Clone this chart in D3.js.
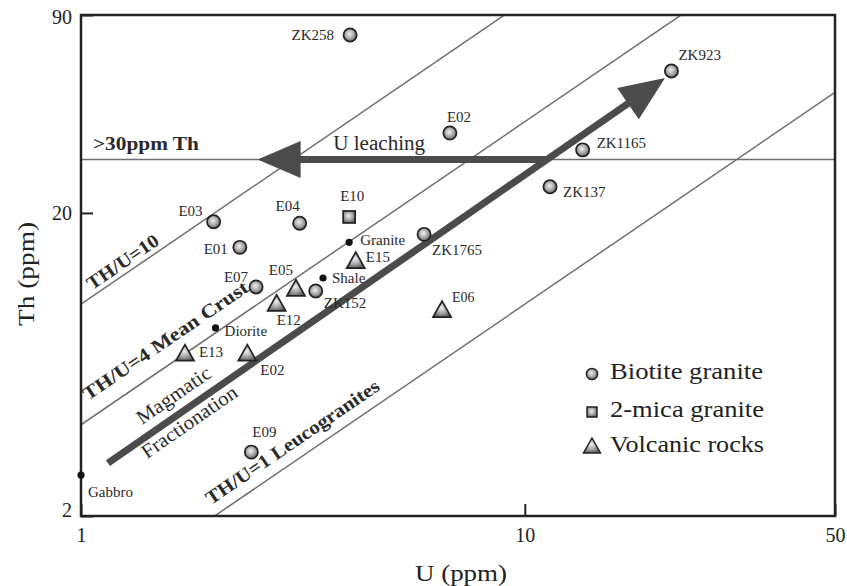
<!DOCTYPE html>
<html>
<head>
<meta charset="utf-8">
<script src="https://cdn.jsdelivr.net/npm/d3@7"></script>
<style>
  html, body { margin: 0; padding: 0; background: #fff; }
</style>
</head>
<body>
<svg id="chart" width="847" height="586"></svg>
<script>
// ---- Sample data: names, U (ppm), Th (ppm) ----
const biotiteNames = ["ZK258", "ZK923", "E02", "ZK1165", "ZK137", "ZK1765", "E03", "E04", "E01", "E07", "ZK152", "E09"];
const biotiteU     = [4.04, 21.4, 6.78, 13.5, 11.4, 5.93, 1.99, 3.11, 2.28, 2.48, 3.38, 2.42];
const biotiteTh    = [77.3, 58.8, 36.7, 32.3, 24.4, 17.0, 18.7, 18.5, 15.4, 11.4, 11.05, 3.25];

const micaNames = ["E10"];
const micaU     = [4.02];
const micaTh    = [19.4];

const volcanicNames = ["E15", "E05", "E12", "E13", "E02", "E06"];
const volcanicU     = [4.16, 3.05, 2.76, 1.715, 2.37, 6.51];
const volcanicTh    = [13.7, 11.1, 9.9, 6.78, 6.78, 9.44];

// Average crustal rock compositions
const rockNames = ["Granite", "Shale", "Diorite", "Gabbro"];
const rockU     = [4.02, 3.51, 2.01, 1.0];
const rockTh    = [16.0, 12.2, 8.35, 2.73];

// Reference Th/U ratio lines and the Th threshold
const ratioValues = [10, 4, 1];
const thThreshold = 30;

// Trend arrows (start, head) in U / Th
const fractionationU  = [1.15, 20.7];
const fractionationTh = [2.99, 55.8];
const leachingU  = [11.3, 2.5];
const leachingTh = [30, 30];

const xTickValues = [1, 10, 50];
const yTickValues = [2, 20, 90];

// ---- Layout ----
const FONT = "'Liberation Serif', 'Times New Roman', Times, serif";
const svg = d3.select("#chart").style("font-family", FONT);
const x = d3.scaleLog().domain([1, 50]).range([81, 835]);
const y = d3.scaleLog().domain([2, 90]).range([516, 15]);
const [x0, x1] = x.range();
const [y0, y1] = y.range();

const defs = svg.append("defs");
defs.append("clipPath").attr("id", "plot-clip")
  .append("rect").attr("x", x0).attr("y", y1).attr("width", x1 - x0).attr("height", y0 - y1);

function shadeGradient(id) {
  const g = defs.append("radialGradient").attr("id", id)
    .attr("cx", "45%").attr("cy", "42%").attr("r", "60%");
  g.append("stop").attr("offset", "0%").attr("stop-color", "#f0f0f0");
  g.append("stop").attr("offset", "55%").attr("stop-color", "#a8a8a8");
  g.append("stop").attr("offset", "100%").attr("stop-color", "#626262");
}
shadeGradient("ball");
shadeGradient("tri");

const lineColor = "#6f6f6f";
const arrowColor = "#4b4b4b";
const ink = "#222";

// ---- Reference lines ----
const refLines = svg.append("g").attr("clip-path", "url(#plot-clip)");
refLines.selectAll("line.ratio").data(ratioValues).join("line")
  .attr("class", "ratio")
  .attr("x1", x(1)).attr("y1", r => y(r * 1))
  .attr("x2", x(50)).attr("y2", r => y(r * 50))
  .attr("stroke", lineColor).attr("stroke-width", 1.5);
refLines.append("line")
  .attr("x1", x0).attr("x2", x1)
  .attr("y1", y(thThreshold)).attr("y2", y(thThreshold))
  .attr("stroke", lineColor).attr("stroke-width", 1.5);

// ---- Trend arrows ----
function arrow(g, ua, ta, ub, tb, width, headLen, headHalf) {
  const ax = x(ua), ay = y(ta), bx = x(ub), by = y(tb);
  const len = Math.hypot(bx - ax, by - ay);
  const ux = (bx - ax) / len, uy = (by - ay) / len;
  const px = -uy, py = ux;
  const cx = bx - ux * headLen, cy = by - uy * headLen;
  g.append("line")
    .attr("x1", ax).attr("y1", ay).attr("x2", cx + ux * 2).attr("y2", cy + uy * 2)
    .attr("stroke", arrowColor).attr("stroke-width", width);
  g.append("path")
    .attr("d", `M${bx},${by}L${cx + px * headHalf},${cy + py * headHalf}L${cx - px * headHalf},${cy - py * headHalf}Z`)
    .attr("fill", arrowColor);
}
const arrows = svg.append("g");
arrow(arrows, leachingU[0], leachingTh[0], leachingU[1], leachingTh[1], 7, 43, 18.5);
arrow(arrows, fractionationU[0], fractionationTh[0], fractionationU[1], fractionationTh[1], 7, 45, 19);

// ---- Frame and axes ----
svg.append("rect")
  .attr("x", x0).attr("y", y1).attr("width", x1 - x0).attr("height", y0 - y1)
  .attr("fill", "none").attr("stroke", ink).attr("stroke-width", 2.5);

const xAxis = svg.append("g").attr("transform", `translate(0,${y0})`)
  .call(d3.axisBottom(x).tickValues(xTickValues).tickFormat(d3.format("d"))
    .tickSizeInner(-12).tickSizeOuter(0).tickPadding(12));
const yAxis = svg.append("g").attr("transform", `translate(${x0},0)`)
  .call(d3.axisLeft(y).tickValues(yTickValues).tickFormat(d3.format("d"))
    .tickSizeInner(-12).tickSizeOuter(0).tickPadding(9));
[xAxis, yAxis].forEach(a => {
  a.attr("font-family", FONT);
  a.select(".domain").remove();
  a.selectAll(".tick line").attr("stroke", ink).attr("stroke-width", 2);
  a.selectAll(".tick text").attr("fill", ink)
    .style("font-family", FONT).style("font-size", "20px");
});
yAxis.selectAll(".tick text").filter(d => d === 2).attr("dy", "0.02em");
yAxis.selectAll(".tick text").filter(d => d === 90).attr("dy", "0.4em");

svg.append("text")
  .attr("x", (x0 + x1) / 2 + 3).attr("y", 581)
  .attr("text-anchor", "middle").attr("fill", ink)
  .style("font-size", "23px").attr("textLength", 92).attr("lengthAdjust", "spacingAndGlyphs")
  .text("U (ppm)");
svg.append("text")
  .attr("transform", "translate(34,274) rotate(-90)")
  .attr("text-anchor", "middle").attr("fill", ink)
  .style("font-size", "23px").attr("textLength", 104).attr("lengthAdjust", "spacingAndGlyphs")
  .text("Th (ppm)");

// ---- Annotation text ----
const ratioAngle = Math.atan2(y(500) - y(10), x(50) - x(1)) * 180 / Math.PI;
const fracAngle = Math.atan2(
  y(fractionationTh[1]) - y(fractionationTh[0]),
  x(fractionationU[1]) - x(fractionationU[0])) * 180 / Math.PI;

const notes = [
  { text: "TH/U=10", u: 1.059, th: 11.1, angle: ratioAngle, bold: true, size: 19, len: 83 },
  { text: "TH/U=4 Mean Crust", u: 1.037, th: 4.79, angle: ratioAngle, bold: true, size: 19, len: 196 },
  { text: "TH/U=1 Leucogranites", u: 1.963, th: 2.17, angle: ratioAngle, bold: true, size: 19, len: 206 },
  { text: "Magmatic", u: 1.372, th: 3.99, angle: fracAngle, bold: false, size: 20, len: 86 },
  { text: "Fractionation", u: 1.408, th: 3.08, angle: fracAngle, bold: false, size: 20, len: 112 },
  { text: ">30ppm Th", u: 1.064, th: 32.3, angle: 0, bold: true, size: 19, len: 106 },
  { text: "U leaching", u: 3.70, th: 32.3, angle: 0, bold: false, size: 20, len: 92 }
];
svg.append("g").selectAll("text").data(notes).join("text")
  .attr("transform", d => `translate(${x(d.u)},${y(d.th)}) rotate(${d.angle})`)
  .attr("fill", "#2a2a2a")
  .style("font-size", d => d.size + "px")
  .style("font-weight", d => d.bold ? "bold" : "normal")
  .attr("textLength", d => d.len).attr("lengthAdjust", "spacingAndGlyphs")
  .text(d => d.text);

// ---- Markers ----
const pts = svg.append("g");
const zip = (names, us, ths, kind) => names.map((n, i) => ({ name: n, u: us[i], th: ths[i], kind }));
const biotite = zip(biotiteNames, biotiteU, biotiteTh, "bio");
const mica = zip(micaNames, micaU, micaTh, "mica");
const volcanic = zip(volcanicNames, volcanicU, volcanicTh, "volc");
const rocks = zip(rockNames, rockU, rockTh, "rock");

function triPath(cx, cy, h) {
  const w = h * 2 / Math.sqrt(3) * 0.98;
  return `M${cx},${cy - h * 2 / 3}L${cx + w / 2},${cy + h / 3}L${cx - w / 2},${cy + h / 3}Z`;
}

pts.selectAll("circle.rock").data(rocks).join("circle")
  .attr("class", "rock")
  .attr("cx", d => x(d.u)).attr("cy", d => y(d.th)).attr("r", 3.6)
  .attr("fill", "#111");

pts.selectAll("path.volc").data(volcanic).join("path")
  .attr("class", "volc")
  .attr("d", d => triPath(x(d.u), y(d.th), 16))
  .attr("fill", "url(#tri)").attr("stroke", "#222").attr("stroke-width", 1.7)
  .attr("stroke-linejoin", "miter");

pts.selectAll("rect.mica").data(mica).join("rect")
  .attr("class", "mica")
  .attr("x", d => x(d.u) - 6).attr("y", d => y(d.th) - 6)
  .attr("width", 12).attr("height", 12)
  .attr("fill", "url(#ball)").attr("stroke", "#222").attr("stroke-width", 1.7);

pts.selectAll("circle.bio").data(biotite).join("circle")
  .attr("class", "bio")
  .attr("cx", d => x(d.u)).attr("cy", d => y(d.th)).attr("r", 6.6)
  .attr("fill", "url(#ball)").attr("stroke", "#222").attr("stroke-width", 1.7);

// ---- Point labels: offset from marker [dx, dy, anchor] ----
const labelPlacement = {
  "bio:ZK258": [-16, 5, "end"],
  "bio:ZK923": [7, -11, "start"],
  "bio:E02": [-3, -11, "start"],
  "bio:ZK1165": [14, -2, "start"],
  "bio:ZK137": [13, 10, "start"],
  "bio:ZK1765": [8, 21, "start"],
  "bio:E03": [-11, -6, "end"],
  "bio:E04": [0, -12, "end"],
  "bio:E01": [-12, 7, "end"],
  "bio:E07": [-8, -5, "end"],
  "bio:ZK152": [8, 17, "start"],
  "bio:E09": [1, -15, "start"],
  "mica:E10": [-9, -16, "start"],
  "volc:E15": [10, -1, "start"],
  "volc:E05": [-3, -15, "end"],
  "volc:E12": [0, 19, "start"],
  "volc:E13": [14, 2, "start"],
  "volc:E02": [13, 20, "start"],
  "volc:E06": [10, -10, "start"],
  "rock:Granite": [11, 3, "start"],
  "rock:Shale": [9, 5, "start"],
  "rock:Diorite": [9, 8, "start"],
  "rock:Gabbro": [7, 22, "start"]
};
const allPoints = [...biotite, ...mica, ...volcanic, ...rocks];
svg.append("g").selectAll("text").data(allPoints).join("text")
  .attr("x", d => x(d.u) + labelPlacement[d.kind + ":" + d.name][0])
  .attr("y", d => y(d.th) + labelPlacement[d.kind + ":" + d.name][1])
  .attr("text-anchor", d => labelPlacement[d.kind + ":" + d.name][2])
  .attr("fill", "#2a2a2a")
  .style("font-size", d => (d.kind === "volc" && d.name === "E06") ? "14px" : "15px")
  .text(d => d.name);

// ---- Legend ----
const legend = svg.append("g");
const legendItems = [
  { label: "Biotite granite", kind: "bio", cy: 374, base: 379, len: 153 },
  { label: "2-mica granite", kind: "mica", cy: 412, base: 417, len: 154 },
  { label: "Volcanic rocks", kind: "volc", cy: 447, base: 452, len: 154 }
];
legendItems.forEach(it => {
  const cx = 592;
  if (it.kind === "bio") {
    legend.append("circle").attr("cx", cx).attr("cy", it.cy).attr("r", 5.6)
      .attr("fill", "url(#ball)").attr("stroke", "#222").attr("stroke-width", 1.5);
  } else if (it.kind === "mica") {
    legend.append("rect").attr("x", cx - 5).attr("y", it.cy - 5).attr("width", 10).attr("height", 10)
      .attr("fill", "url(#ball)").attr("stroke", "#222").attr("stroke-width", 1.5);
  } else {
    legend.append("path").attr("d", triPath(cx, it.cy + 1, 15))
      .attr("fill", "url(#tri)").attr("stroke", "#222").attr("stroke-width", 1.5);
  }
  legend.append("text")
    .attr("x", 610).attr("y", it.base).attr("fill", ink)
    .style("font-size", "23px")
    .attr("textLength", it.len).attr("lengthAdjust", "spacingAndGlyphs")
    .text(it.label);
});
</script>
</body>
</html>
